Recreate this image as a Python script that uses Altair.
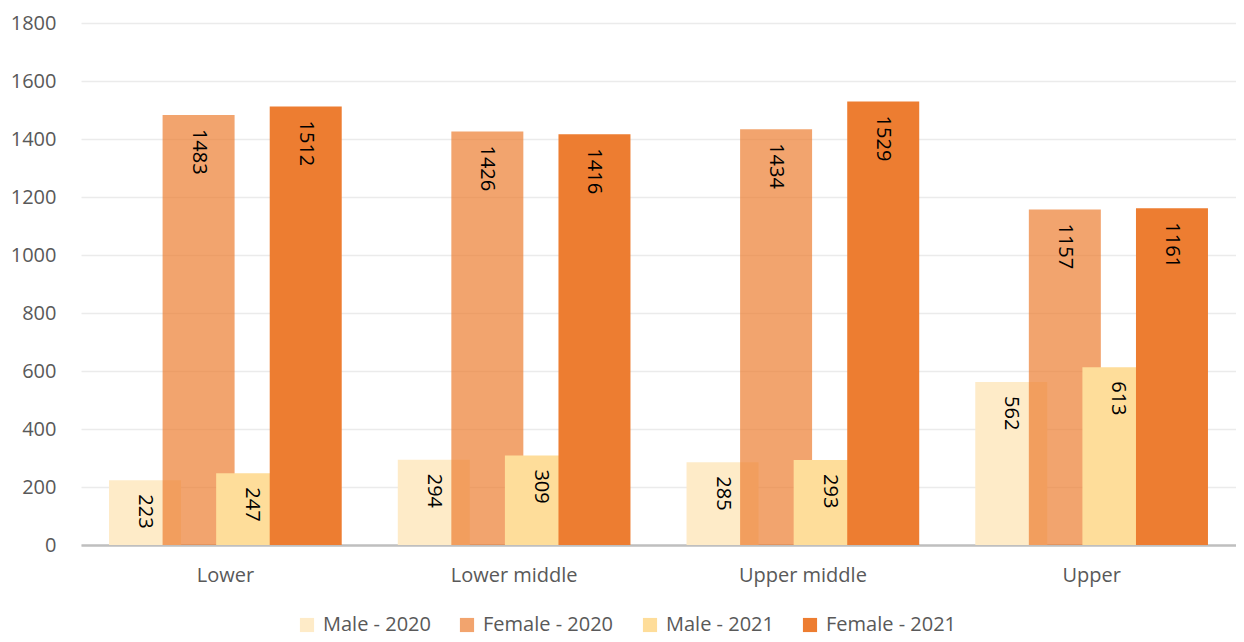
import altair as alt
import pandas as pd

categories = ["Lower", "Lower middle", "Upper middle", "Upper"]
series = ["Male - 2020", "Female - 2020", "Male - 2021", "Female - 2021"]
male_2020 = [223, 294, 285, 562]
female_2020 = [1483, 1426, 1434, 1157]
male_2021 = [247, 309, 293, 613]
female_2021 = [1512, 1416, 1529, 1161]
colors = ["#FEEBC8", "rgba(237,125,49,0.7)", "#FEDD9A", "#ED7D31"]
y_ticks = [0, 200, 400, 600, 800, 1000, 1200, 1400, 1600, 1800]

values_by_series = [male_2020, female_2020, male_2021, female_2021]
rows = []
for ci, cat in enumerate(categories):
    for si, s in enumerate(series):
        rows.append({"category": cat, "series": s, "value": values_by_series[si][ci]})
df = pd.DataFrame(rows)

FONT = "Open Sans"

x = alt.X("category:N", sort=categories,
          scale=alt.Scale(paddingInner=0.258, paddingOuter=0.129),
          axis=alt.Axis(title=None, labelAngle=0, labelFontSize=20, labelColor="#595959",
                        labelFont=FONT, labelPadding=20, ticks=False,
                        domainColor="#BFBFBF", domainWidth=2.5, grid=False))
xoff = alt.XOffset("series:N", sort=series, scale=alt.Scale(paddingInner=0, paddingOuter=0))
y = alt.Y("value:Q",
          scale=alt.Scale(domain=[0, 1800], nice=False),
          axis=alt.Axis(title=None, values=y_ticks, format="d", labelFontSize=20,
                        labelColor="#595959", labelFont=FONT, labelPadding=25, ticks=False,
                        domain=False, gridColor="#EBEBEB", gridWidth=1.5,
                        minExtent=73, maxExtent=73))

bars = alt.Chart(df).mark_bar(width=72).encode(
    x=x,
    xOffset=xoff,
    y=y,
    color=alt.Color("series:N", sort=series,
                    scale=alt.Scale(domain=series, range=colors),
                    legend=alt.Legend(title=None, orient="none", direction="horizontal",
                                      legendX=216, legendY=592,
                                      symbolType="square", symbolSize=200,
                                      symbolStrokeWidth=0, symbolOpacity=1,
                                      labelFontSize=20, labelColor="#595959", labelFont=FONT,
                                      labelOffset=6, columnPadding=26, padding=0)),
)

labels = alt.Chart(df).mark_text(angle=90, align="left", baseline="middle", dx=14,
                                 fontSize=20, font=FONT, color="#000000").encode(
    x=alt.X("category:N", sort=categories),
    xOffset=alt.XOffset("series:N", sort=series),
    y=alt.Y("value:Q"),
    text=alt.Text("value:Q"),
)

chart = alt.layer(bars, labels).properties(
    width=1155, height=522,
    padding={"left": 0, "top": 5, "right": 0, "bottom": 4},
).configure_view(stroke=None)

chart.save("out.html", embed_options={"renderer": "svg", "actions": False})
